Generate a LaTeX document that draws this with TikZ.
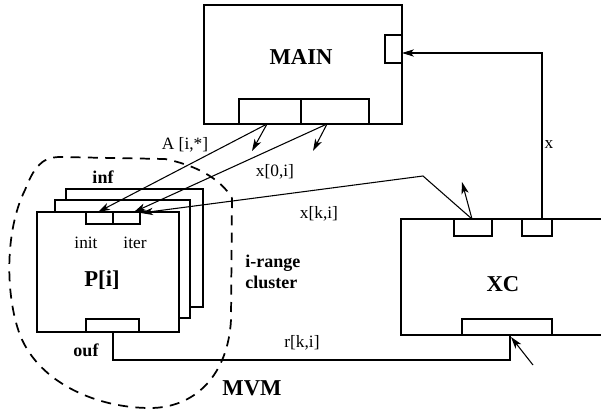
\documentclass[tikz,border=0pt]{standalone}
\usepackage{fontspec}
\setmainfont{Liberation Serif}
\usetikzlibrary{fit,arrows.meta}

\tikzset{
  box/.style={draw, line width=0.9pt, inner sep=0pt},
  port/.style={draw, fill=white, line width=0.9pt, inner sep=0pt},
  arr/.style={line width=0.8pt, -{Stealth[length=9pt,width=5.5pt,inset=2.5pt]}},
  wire/.style={line width=0.8pt},
  lbl/.style={inner sep=0.75pt, font=\fontsize{13}{15}\selectfont},
  blbl/.style={inner sep=0.75pt, font=\fontsize{13.5}{16}\selectfont\bfseries},
  bigbold/.style={inner sep=0.75pt, font=\fontsize{17}{20}\selectfont\bfseries},
}

\begin{document}
\begin{tikzpicture}[x=0.75pt,y=0.75pt,yscale=-1]
        \useasboundingbox (0,0) rectangle (601,411);
        \clip (0,0) rectangle (601,411);

        %Shape: MAIN with its ports
        \node[box, fit={(204,5) (402,124)}] (main) {};
        \node[port, fit={(385,35) (402,63)}] (mainx) {};
        \node[port, fit={(239,99) (301,124)}] (maina) {};
        \node[port, fit={(301,99) (369,124)}] (mainz) {};
        \node[bigbold] (mainlbl) at (301,57) {MAIN};

        %Shape: stack of P[i] boxes
        \node[box, fill=white, fit={(66,189) (203,307)}] (pback) {};
        \node[box, fill=white, fit={(55,200) (190,318)}] (pmid) {};
        \node[box, fill=white, fit={(37,212) (179,332)}] (p) {};
        \node[port, fit={(86,212) (113,224)}] (pinit) {};
        \node[port, fit={(113,212) (140,224)}] (piter) {};
        \node[port, fit={(86,319) (139,332)}] (pouf) {};
        \node[lbl] (initlbl) at (86,243) {init};
        \node[lbl] (iterlbl) at (135,243) {iter};
        \node[bigbold] (plbl) at (102,280) {P[i]};
        \node[blbl] (inflbl) at (103,177) {inf};
        \node[blbl] (ouflbl) at (86,350) {ouf};

        %Shape: XC with its ports (right side runs off the page)
        \node[box, fit={(401,219) (640,335)}] (xc) {};
        \node[port, fit={(454,219) (492,236)}] (xck) {};
        \node[port, fit={(522,219) (552,236)}] (xcx) {};
        \node[port, fit={(462,319) (552,335)}] (xcr) {};
        \node[bigbold] (xclbl) at (503,284) {XC};

        % connector ends
        \coordinate (aout) at (267,124);
        \coordinate (atip) at (252,151);
        \coordinate (ain) at (98,212);
        \coordinate (zout) at (327,124);
        \coordinate (ztip) at (313,151);
        \coordinate (zin) at (134,212);
        \coordinate (kout) at (472,219);
        \coordinate (ktip) at (462,182);
        \coordinate (kbend) at (423,176);
        \coordinate (kin) at (141,213);
        \coordinate (xout) at (542,219);
        \coordinate (xin) at (402,53);
        \coordinate (rout) at (113,332);
        \coordinate (rin) at (510,335);
        \coordinate (rtail) at (533,365);
        \coordinate (rtip) at (511,337);

        %Straight Lines
        \draw[arr] (aout) -- (ain);
        \draw[arr] (aout) -- (atip);
        \draw[arr] (zout) -- (zin);
        \draw[arr] (zout) -- (ztip);
        \draw[arr] (kout) -- (kbend) -- (kin);
        \draw[arr] (kout) -- (ktip);
        \draw[arr] (xout) |- (xin);
        \draw[wire] (rout) -- ++(0,28) -| (rin);
        \draw[arr] (rtail) -- (rtip);

        %Shape: MVM cluster
        \draw[line width=1.3pt, dash pattern={on 7.5pt off 5.5pt}] (232,198) -- (231,320) .. controls (228,375) and (195,408) .. (150,408) .. controls (100,408) and (40,385) .. (20,335) .. controls (5,295) and (5,230) .. (25,190) .. controls (33,170) and (40,157) .. (60,157) -- (165,159) .. controls (195,165) and (220,178) .. (232,198) -- cycle ;

        % Text Node
        \node[lbl] (albl) at (185,145) {A [i,*]};
        \node[lbl] (zlbl) at (275,172) {x[0,i]};
        \node[lbl] (klbl) at (319,214) {x[k,i]};
        \node[lbl] (xlbl) at (549,145) {x};
        \node[lbl] (rlbl) at (302,343) {r[k,i]};
        \node[blbl, align=left, anchor=west] (clusterlbl) at (244,272) {i-range\\cluster};
        \node[bigbold] (mvmlbl) at (252,388) {MVM};

\end{tikzpicture}
\end{document}
